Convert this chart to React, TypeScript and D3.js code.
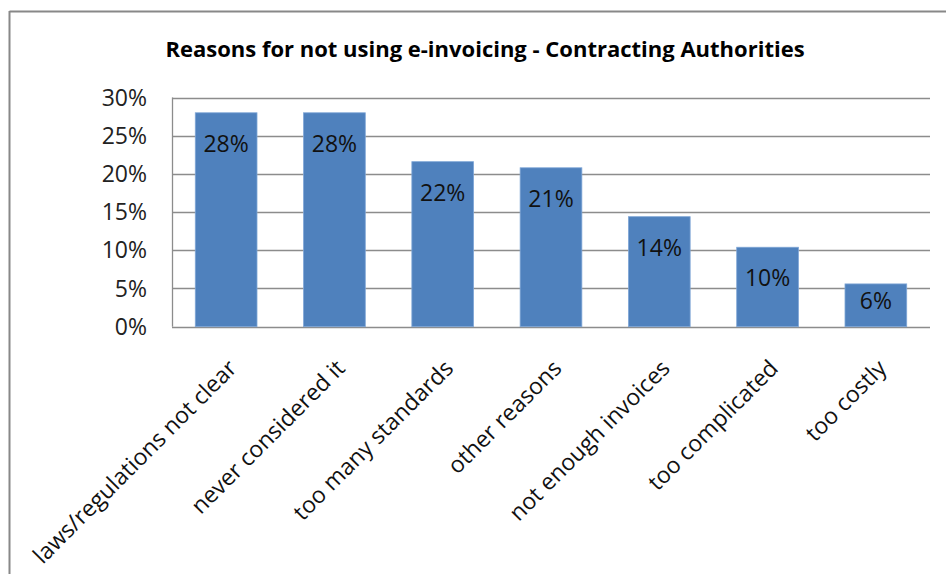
import React from "react";
import * as d3 from "d3";

const categories = [
  "laws/regulations not clear",
  "never considered it",
  "too many standards",
  "other reasons",
  "not enough invoices",
  "too complicated",
  "too costly",
];
const values = [0.28, 0.28, 0.216, 0.208, 0.144, 0.104, 0.056];
const yTicks = [0, 0.05, 0.1, 0.15, 0.2, 0.25, 0.3];
const title = "Reasons for not using e-invoicing - Contracting Authorities";

const W = 946;
const H = 574;
const plot = { left: 172, right: 930, top: 97.5, bottom: 326.7 };
const FONT = "'Open Sans', 'Noto Sans', sans-serif";

export default function App() {
  const x = d3
    .scaleBand<string>()
    .domain(categories)
    .range([plot.left, plot.right])
    .paddingInner(0.43)
    .paddingOuter(0.215);
  const y = d3.scaleLinear().domain([0, 0.3]).range([plot.bottom, plot.top]);
  const fmt = d3.format(".0%");

  return (
    <svg
      width={W}
      height={H}
      style={{ position: "absolute", left: 0, top: 0, background: "#fff" }}
    >
      <rect x={0} y={0} width={W} height={H} fill="#fff" />
      {/* outer border */}
      <line x1={9.5} y1={11} x2={9.5} y2={H} stroke="#888" strokeWidth={2} />
      <line x1={9.5} y1={11.5} x2={W} y2={11.5} stroke="#888" strokeWidth={2} />

      <text
        x={485}
        y={57}
        textAnchor="middle"
        fontFamily={FONT}
        fontWeight="bold"
        fontSize={22}
        fill="#000"
      >
        {title}
      </text>

      {/* gridlines */}
      {yTicks.map((t) => (
        <line
          key={t}
          x1={plot.left}
          x2={plot.right}
          y1={Math.round(y(t)) + 0.5}
          y2={Math.round(y(t)) + 0.5}
          stroke="#8c8c8c"
          strokeWidth={1.3}
        />
      ))}
      <line
        x1={plot.left + 0.5}
        x2={plot.left + 0.5}
        y1={plot.top}
        y2={plot.bottom}
        stroke="#8c8c8c"
        strokeWidth={1.3}
      />

      {/* y tick labels */}
      {yTicks.map((t) => (
        <text
          key={t}
          x={147}
          y={y(t) + 8}
          textAnchor="end"
          fontFamily={FONT}
          fontSize={23}
          fill="#222"
        >
          {fmt(t)}
        </text>
      ))}

      {/* bars */}
      {categories.map((c, i) => (
        <g key={c}>
          <rect
            x={x(c)!}
            y={y(values[i])}
            width={x.bandwidth()}
            height={plot.bottom - y(values[i])}
            fill="#4f81bd"
            stroke="#7fa6d6"
            strokeWidth={0.8}
          />
          <text
            x={x(c)! + x.bandwidth() / 2}
            y={Math.min(y(values[i]) + 39, plot.bottom - 18)}
            textAnchor="middle"
            fontFamily={FONT}
            fontSize={23}
            fill="#111"
          >
            {fmt(values[i])}
          </text>
        </g>
      ))}

      {/* x labels */}
      {categories.map((c) => {
        const cx = x(c)! + x.bandwidth() / 2 + 12;
        const cy = plot.bottom + 43;
        return (
          <text
            key={c}
            transform={`translate(${cx},${cy}) rotate(-45)`}
            textAnchor="end"
            fontFamily={FONT}
            fontSize={23}
            fill="#111"
          >
            {c}
          </text>
        );
      })}
    </svg>
  );
}
